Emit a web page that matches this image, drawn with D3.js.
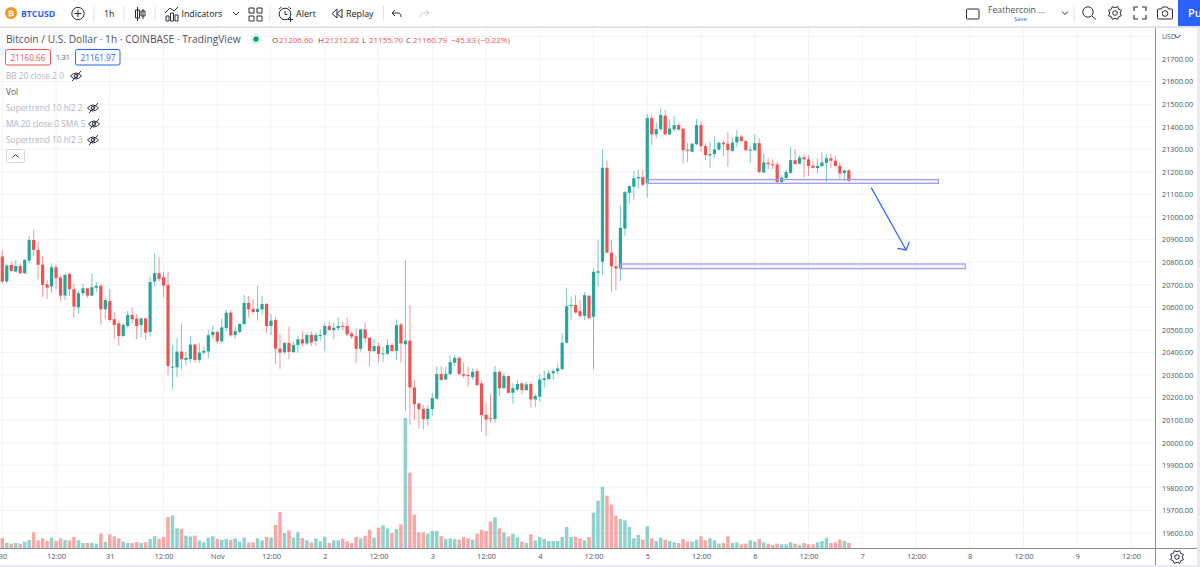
<!DOCTYPE html>
<html><head><meta charset="utf-8">
<script src="https://cdn.jsdelivr.net/npm/d3@7"></script>
<style>
html,body{margin:0;padding:0;background:#fff;overflow:hidden}
svg{display:block}
text{font-family:"Open Sans",sans-serif}
</style></head><body><svg id="c" width="1200" height="567"></svg>
<script>
const openPrices=[20825,20714,20788,20758,20783,20751,20807,20898,20854,20788,20702,20692,20777,20732,20652,20748,20680,20600,20662,20684,20652,20687,20696,20591,20628,20547,20529,20473,20517,20566,20550,20522,20551,20491,20714,20751,20733,20699,20334,20334,20404,20367,20371,20435,20367,20399,20404,20477,20491,20449,20508,20576,20477,20491,20526,20619,20593,20579,20591,20615,20517,20544,20417,20401,20442,20402,20433,
20458,20440,20478,20450,20474,20477,20517,20499,20508,20517,20517,20484,20472,20416,20502,20465,20406,20428,20393,20394,20433,20407,20524,20436,20452,20245,20174,20150,20105,20149,20195,20304,20280,20304,20354,20376,20304,20300,20291,20317,20263,20124,20109,20105,20314,20242,20295,20221,20235,20263,20233,20260,20192,20204,20278,20282,20307,20317,20326,20443,
20605,20610,20583,20562,20651,20558,20753,20802,21218,20842,20782,20772,20949,21107,21134,21171,21177,21152,21438,21366,21390,21449,21366,21388,21407,21391,21298,21289,21322,21407,21314,21273,21279,21299,21329,21325,21293,21330,21356,21336,21296,21296,21327,21197,21240,21234,21233,21155,21172,21195,21252,21236,21264,21255,21227,21217,21226,21240,21260,21249,21227,21195,21206.6];
const highPrices=[20854,20792,20802,20810,20795,20813,20916,20943,20891,20827,20721,20795,20788,20739,20748,20751,20703,20674,20703,20687,20748,20712,20702,20640,20680,20578,20541,20529,20584,20599,20570,20555,20555,20736,20839,20822,20758,20758,20433,20463,20529,20404,20473,20438,20441,20429,20500,20520,20497,20550,20588,20588,20517,20529,20655,20650,20635,20695,20650,20618,20570,20556,20482,20445,20514,20448,20473,
20496,20489,20492,20489,20502,20532,20536,20532,20555,20536,20555,20492,20506,20505,20533,20468,20458,20443,20425,20458,20440,20546,20532,20810,20610,20280,20177,20167,20167,20221,20337,20340,20337,20388,20388,20381,20357,20337,20329,20329,20275,20177,20215,20340,20325,20310,20298,20263,20278,20266,20270,20270,20218,20304,20319,20322,20329,20351,20484,20686,
20647,20654,20632,20669,20655,20772,20898,21299,21249,20898,20831,21051,21116,21140,21205,21211,21208,21456,21453,21419,21481,21474,21432,21447,21415,21394,21329,21326,21434,21425,21326,21335,21356,21335,21338,21376,21353,21385,21364,21341,21317,21367,21348,21282,21260,21255,21245,21186,21211,21311,21301,21274,21277,21274,21249,21260,21288,21279,21279,21270,21243,21211,21212.82];
const lowPrices=[20706,20709,20755,20755,20748,20748,20795,20827,20724,20644,20637,20666,20681,20625,20632,20650,20553,20570,20652,20643,20650,20669,20523,20550,20537,20461,20429,20467,20511,20529,20458,20467,20455,20470,20692,20714,20644,20300,20237,20290,20325,20345,20355,20355,20355,20390,20374,20460,20438,20443,20492,20470,20461,20485,20520,20556,20570,20541,20566,20485,20477,20349,20327,20392,20371,20396,20399,
20428,20433,20428,20430,20452,20406,20496,20458,20496,20499,20474,20459,20354,20403,20443,20340,20403,20356,20356,20391,20402,20366,20354,20140,20078,20100,20063,20059,20074,20119,20192,20275,20278,20301,20340,20300,20288,20248,20280,20252,20049,20031,20090,20088,20207,20239,20218,20174,20230,20215,20230,20156,20159,20182,20241,20278,20278,20304,20322,20440,
20543,20573,20551,20543,20543,20325,20691,20743,20839,20669,20676,20716,20917,21056,21078,21127,21137,21085,21319,21348,21382,21363,21363,21378,21385,21237,21242,21286,21319,21289,21252,21217,21264,21296,21271,21223,21286,21311,21333,21292,21240,21292,21193,21196,21211,21212,21146,21149,21171,21193,21232,21234,21175,21181,21215,21193,21220,21156,21218,21223,21171,21161,21155.7];
const closePrices=[20714,20785,20761,20783,20751,20810,20898,20854,20788,20699,20687,20777,20729,20652,20743,20680,20603,20662,20684,20652,20689,20695,20591,20632,20544,20522,20473,20522,20566,20547,20517,20551,20488,20712,20751,20726,20696,20340,20337,20404,20370,20376,20435,20367,20399,20407,20476,20491,20449,20511,20576,20476,20494,20526,20619,20591,20579,20593,20615,20517,20541,20417,20399,20442,20402,20433,20458,
20440,20477,20444,20477,20478,20517,20499,20509,20517,20514,20480,20470,20416,20502,20462,20406,20428,20393,20396,20433,20406,20521,20440,20452,20245,20171,20148,20105,20150,20198,20304,20278,20304,20357,20376,20304,20297,20295,20314,20255,20122,20103,20105,20314,20242,20295,20221,20242,20260,20233,20258,20192,20207,20280,20285,20307,20317,20329,20443,20605,
20610,20577,20562,20654,20553,20757,20760,21218,20842,20782,20772,20952,21110,21137,21171,21177,21143,21438,21366,21390,21452,21366,21392,21407,21387,21296,21293,21325,21407,21314,21274,21279,21299,21329,21322,21296,21330,21356,21336,21296,21299,21327,21199,21242,21234,21229,21155,21174,21199,21252,21234,21264,21255,21226,21218,21226,21242,21260,21249,21226,21193,21206,21160.79];
const volumes=[30,16,13,15,13,19,24,47,23,29,22,31,22,29,24,23,33,23,15,15,15,13,43,19,41,35,29,19,15,15,18,15,17,27,35,27,33,93,97,59,57,37,35,37,23,17,31,35,27,25,27,25,29,19,31,17,17,29,23,33,31,69,108,45,53,31,47,
30,23,17,28,20,34,15,23,23,28,20,15,33,29,37,55,31,61,68,59,45,57,71,390,226,100,47,47,43,51,51,35,27,29,27,25,33,29,25,43,55,51,79,92,59,47,35,43,32,19,15,41,23,33,27,21,21,21,33,63,
33,33,29,23,33,106,142,184,157,130,97,87,83,63,29,39,25,65,29,21,31,25,21,17,15,27,19,19,25,35,23,29,23,13,15,35,15,17,11,13,23,19,27,17,13,9,13,11,11,17,13,9,15,11,11,17,21,31,15,17,25,21,15];
const priceTicks=[21800,21700,21600,21500,21400,21300,21200,21100,21000,20900,20800,20700,20600,20500,20400,20300,20200,20100,20000,19900,19800,19700,19600];
const timeTickLabels=["30","12:00","31","12:00","Nov","12:00","2","12:00","3","12:00","4","12:00","5","12:00","6","12:00","7","12:00","8","12:00","9","12:00"];
const zoneStartHour=[144,138],zoneEndHour=[209,215],zoneTop=[21166,20792],zoneBottom=[21149,20771];
const arrowHour=[194,201.8],arrowPrice=[21130,20854];
const legendOHLC=[["O","21206.60",272],["H","21212.82",318],["L","21155.70",362],["C","21160.79",406]];
const indicatorNames=["BB 20 close 2 0","Vol","Supertrend 10 hl2 2","MA 20 close 0 SMA 5","Supertrend 10 hl2 3"];

const UP="#26a69a",DOWN="#ef5350",BLUE="#2962ff",GRID="#f0f3fa",TXT="#50535e",DARK="#131722";
const hour=3600000,t0=Date.UTC(2022,9,30,0);
const dateAt=h=>new Date(t0+h*hour);
const x=d3.scaleUtc().domain([dateAt(0),dateAt(252)]).range([2.3,1131]);
const y=d3.scaleLinear().domain([19600,21700]).range([533,59]);
const yVol=d3.scaleLinear().domain([0,390]).range([548,418]);
const svg=d3.select("#c");
svg.append("rect").attr("width",1200).attr("height",567).attr("fill","#fff");
const defs=svg.append("defs");
defs.append("clipPath").attr("id","pane").append("rect").attr("x",0).attr("y",28).attr("width",1155).attr("height",520);
const pane=svg.append("g").attr("clip-path","url(#pane)");

// grid
const timeTicks=timeTickLabels.map((_,k)=>dateAt(k*12));
pane.selectAll(".vg").data(timeTicks).join("line").attr("x1",d=>x(d)).attr("x2",d=>x(d)).attr("y1",28).attr("y2",548).attr("stroke",GRID).attr("stroke-width",1);
pane.selectAll(".hg").data(priceTicks).join("line").attr("x1",0).attr("x2",1155).attr("y1",d=>y(d)).attr("y2",d=>y(d)).attr("stroke",GRID).attr("stroke-width",1);

const idx=d3.range(openPrices.length);
const col=i=>closePrices[i]>=openPrices[i]?UP:DOWN;
// volume
pane.selectAll(".v").data(idx).join("rect")
 .attr("x",i=>x(dateAt(i))-1.75).attr("width",3.5)
 .attr("y",i=>yVol(volumes[i])).attr("height",i=>548-yVol(volumes[i]))
 .attr("fill",col).attr("opacity",.5);
// wicks
pane.selectAll(".w").data(idx).join("line")
 .attr("x1",i=>x(dateAt(i))).attr("x2",i=>x(dateAt(i)))
 .attr("y1",i=>y(highPrices[i])).attr("y2",i=>y(lowPrices[i]))
 .attr("stroke",col).attr("stroke-width",1).attr("opacity",.6);
// bodies
pane.selectAll(".b").data(idx).join("rect")
 .attr("x",i=>x(dateAt(i))-1.6).attr("width",3.2)
 .attr("y",i=>y(Math.max(openPrices[i],closePrices[i])))
 .attr("height",i=>Math.max(1,Math.abs(y(openPrices[i])-y(closePrices[i]))))
 .attr("fill",col);
// zones
zoneTop.forEach((p,k)=>{pane.append("rect")
 .attr("x",x(dateAt(zoneStartHour[k]))).attr("width",x(dateAt(zoneEndHour[k]))-x(dateAt(zoneStartHour[k])))
 .attr("y",y(p)).attr("height",y(zoneBottom[k])-y(p))
 .attr("fill","rgba(149,152,240,.12)").attr("stroke","#9a9df2").attr("stroke-width",1.2);});
// arrow
const ax0=x(dateAt(arrowHour[0])),ay0=y(arrowPrice[0]),ax1=x(dateAt(arrowHour[1])),ay1=y(arrowPrice[1]);
const ang=Math.atan2(ay0-ay1,ax0-ax1),bl=8.9,sp=50*Math.PI/180;
pane.append("path").attr("fill","none").attr("stroke",BLUE).attr("stroke-width",1.2)
 .attr("d",`M${ax0},${ay0}L${ax1},${ay1}M${ax1+bl*Math.cos(ang-sp)},${ay1+bl*Math.sin(ang-sp)}L${ax1},${ay1}L${ax1+bl*Math.cos(ang+sp)},${ay1+bl*Math.sin(ang+sp)}`);

// axes
const yAxis=d3.axisRight(y).tickValues(priceTicks.slice(1)).tickFormat(d3.format(".2f")).tickSize(0).tickPadding(7);
const gy=svg.append("g").attr("transform","translate(1155,0)").call(yAxis);
gy.select(".domain").remove();
gy.selectAll("text").attr("font-size",7.3).attr("fill",TXT).attr("font-family","'Open Sans',sans-serif");
const xAxis=d3.axisBottom(x).tickValues(timeTicks).tickFormat((d,i)=>timeTickLabels[i]).tickSize(0).tickPadding(5.5);
const gx=svg.append("g").attr("transform","translate(0,548)").call(xAxis);
gx.select(".domain").remove();
gx.selectAll("text").attr("font-size",7.5).attr("fill",TXT).attr("font-family","'Open Sans',sans-serif");
svg.append("line").attr("x1",0).attr("x2",1197).attr("y1",548.5).attr("y2",548.5).attr("stroke","#8a8d96");
svg.append("line").attr("x1",1155.5).attr("x2",1155.5).attr("y1",28).attr("y2",567).attr("stroke","#8a8d96");
svg.append("rect").attr("x",0).attr("y",565).attr("width",1200).attr("height",2).attr("fill","#e9ebf1");
svg.append("rect").attr("x",1197).attr("y",27).attr("width",3).attr("height",540).attr("fill","#e9ebf1");

// helpers
const T=(s,xp,yp,o={})=>svg.append("text").attr("x",xp).attr("y",yp).attr("font-size",o.size||11).attr("fill",o.fill||TXT).attr("font-weight",o.w||400).attr("text-anchor",o.a||"start").text(s);
const P=(d,o={})=>svg.append("path").attr("d",d).attr("fill",o.fill||"none").attr("stroke",o.stroke||"#2a2e39").attr("stroke-width",o.sw||1);
const gear=(cx,cy)=>{const pts=d3.range(16).map(k=>{const r=k%2?7:5.2,a=k*Math.PI/8;return [cx+r*Math.cos(a),cy+r*Math.sin(a)];});
 P(d3.line().curve(d3.curveLinearClosed)(pts));svg.append("circle").attr("cx",cx).attr("cy",cy).attr("r",2.3).attr("fill","none").attr("stroke","#2a2e39");};
const eye=(cx,cy)=>{P(`M${cx-5.5},${cy}Q${cx},${cy-6} ${cx+5.5},${cy}Q${cx},${cy+6} ${cx-5.5},${cy}Z`);svg.append("circle").attr("cx",cx).attr("cy",cy).attr("r",1.8).attr("fill","none").attr("stroke","#2a2e39");P(`M${cx-4},${cy+5}L${cx+5},${cy-5}`);};
const chev=(cx,cy,up)=>P(up?`M${cx-3},${cy+1.5}L${cx},${cy-1.5}L${cx+3},${cy+1.5}`:`M${cx-3},${cy-1.5}L${cx},${cy+1.5}L${cx+3},${cy-1.5}`);

// toolbar
svg.append("rect").attr("width",1200).attr("height",26).attr("fill","#fff");
svg.append("rect").attr("y",26).attr("width",1200).attr("height",2).attr("fill","#e0e3eb");
svg.append("circle").attr("cx",11).attr("cy",13).attr("r",6).attr("fill","#f7931a");
T("₿",11,16,{size:8,fill:"#fff",a:"middle",w:700});
T("BTCUSD",21,16.5,{size:8.7,fill:BLUE,w:700});
svg.append("circle").attr("cx",78).attr("cy",13.5).attr("r",6.2).attr("fill","none").attr("stroke","#2a2e39");
P("M74.5,13.5H81.5M78,10V17");
[94,124,155,270,383.5,1074].forEach(s=>svg.append("line").attr("x1",s).attr("x2",s).attr("y1",6).attr("y2",21).attr("stroke","#e0e3eb"));
T("1h",104,16.5,{size:8.8,fill:DARK});
P("M137.5,7V21M137.5,10h-2v8h4v-8zM143,9V19M143,11h-2v5h4v-5z");
P("M166,21v-5h3v5zM170.5,21v-8h3v8zM175,21v-6h3v6zM165,13l5-5 4,3 4-4");
T("Indicators",181.5,16.5,{size:8.8,fill:DARK});
chev(236,13.5);
P("M249,8h5v5h-5zM257,8h5v5h-5zM249,16h5v5h-5zM257,16h5v5h-5z");
svg.append("circle").attr("cx",285).attr("cy",14).attr("r",5.8).attr("fill","none").attr("stroke","#2a2e39");
P("M285,11v3.5h2.5M279,9l2.5-2M291,9l-2.5-2M288,19.5h5M290.5,17v5");
T("Alert",296,16.5,{size:9,fill:DARK});
P("M337,9l-5,4.5 5,4.5zM342,9l-5,4.5 5,4.5z");
T("Replay",346,16.5,{size:8.9,fill:DARK});
P("M395,10l-3,3 3,3M392,13h6c2,0 3,1.5 3,4");
P("M426,10l3,3-3,3M429,13h-6c-2,0-3,1.5-3,4",{stroke:"#c8cbd3"});
svg.append("rect").attr("x",966.5).attr("y",9).attr("width",12.5).attr("height",10).attr("rx",1).attr("fill","none").attr("stroke","#2a2e39");
T("Feathercoin ...",988,13,{size:8.7,fill:TXT});
T("Save",1014,21,{size:6,fill:BLUE});
chev(1065,13);
svg.append("circle").attr("cx",1088).attr("cy",12).attr("r",5.2).attr("fill","none").attr("stroke","#2a2e39");
P("M1092,16l4,3.5");
gear(1115,13);
P("M1134,11v-4h4M1142,7h4v4M1146,15v4h-4M1138,19h-4v-4",{sw:1.1});
P("M1158.5,9h3l1-2h5l1,2h3a1,1 0 0 1 1,1v8a1,1 0 0 1-1,1h-13a1,1 0 0 1-1-1v-8a1,1 0 0 1 1-1z");
svg.append("circle").attr("cx",1165).attr("cy",13.5).attr("r",2.8).attr("fill","none").attr("stroke","#2a2e39");
svg.append("rect").attr("x",1178).attr("y",0).attr("width",22).attr("height",26).attr("fill",BLUE);
T("Pu",1188,17,{size:11,fill:"#fff",w:600});

// legend
T("Bitcoin / U.S. Dollar · 1h · COINBASE · TradingView",6,43,{size:10.2,fill:TXT});
svg.append("circle").attr("cx",256).attr("cy",39).attr("r",5.5).attr("fill","#d9f0ec");
svg.append("circle").attr("cx",256).attr("cy",39).attr("r",2.6).attr("fill","#089981");
legendOHLC.forEach(([l,v,xp])=>{T(l,xp,43.3,{size:8,fill:TXT});T(v,xp+7,43.3,{size:8,fill:DOWN});});
T("−45.83 (−0.22%)",451,43.3,{size:8,fill:DOWN});
svg.append("rect").attr("x",5.5).attr("y",49.5).attr("width",45).attr("height",15.5).attr("rx",2).attr("fill","#fff").attr("stroke",DOWN);
T("21160.66",28,60.5,{size:8.2,fill:DOWN,a:"middle"});
T("1.31",56,60,{size:7,fill:TXT});
svg.append("rect").attr("x",75.5).attr("y",49.5).attr("width",44.5).attr("height",15.5).attr("rx",2).attr("fill","#fff").attr("stroke",BLUE);
T("21161.97",98,60.5,{size:8.2,fill:BLUE,a:"middle"});
const rowY=[79,95,111,127,143],eyeX=[76,null,93,94,93];
indicatorNames.forEach((n,k)=>{T(n,6,rowY[k],{size:8.3,fill:k==1?"#50535e":"#b2b5be"});if(eyeX[k])eye(eyeX[k],rowY[k]-3);});
svg.append("rect").attr("x",6.5).attr("y",149.5).attr("width",18).attr("height",13).attr("rx",2).attr("fill","#fff").attr("stroke","#d6d8de");
chev(15.5,156,true);

// axis header + settings
T("USD",1162,39,{size:7,fill:TXT});
chev(1177.5,36.5);
gear(1177,557);
</script></body></html>
